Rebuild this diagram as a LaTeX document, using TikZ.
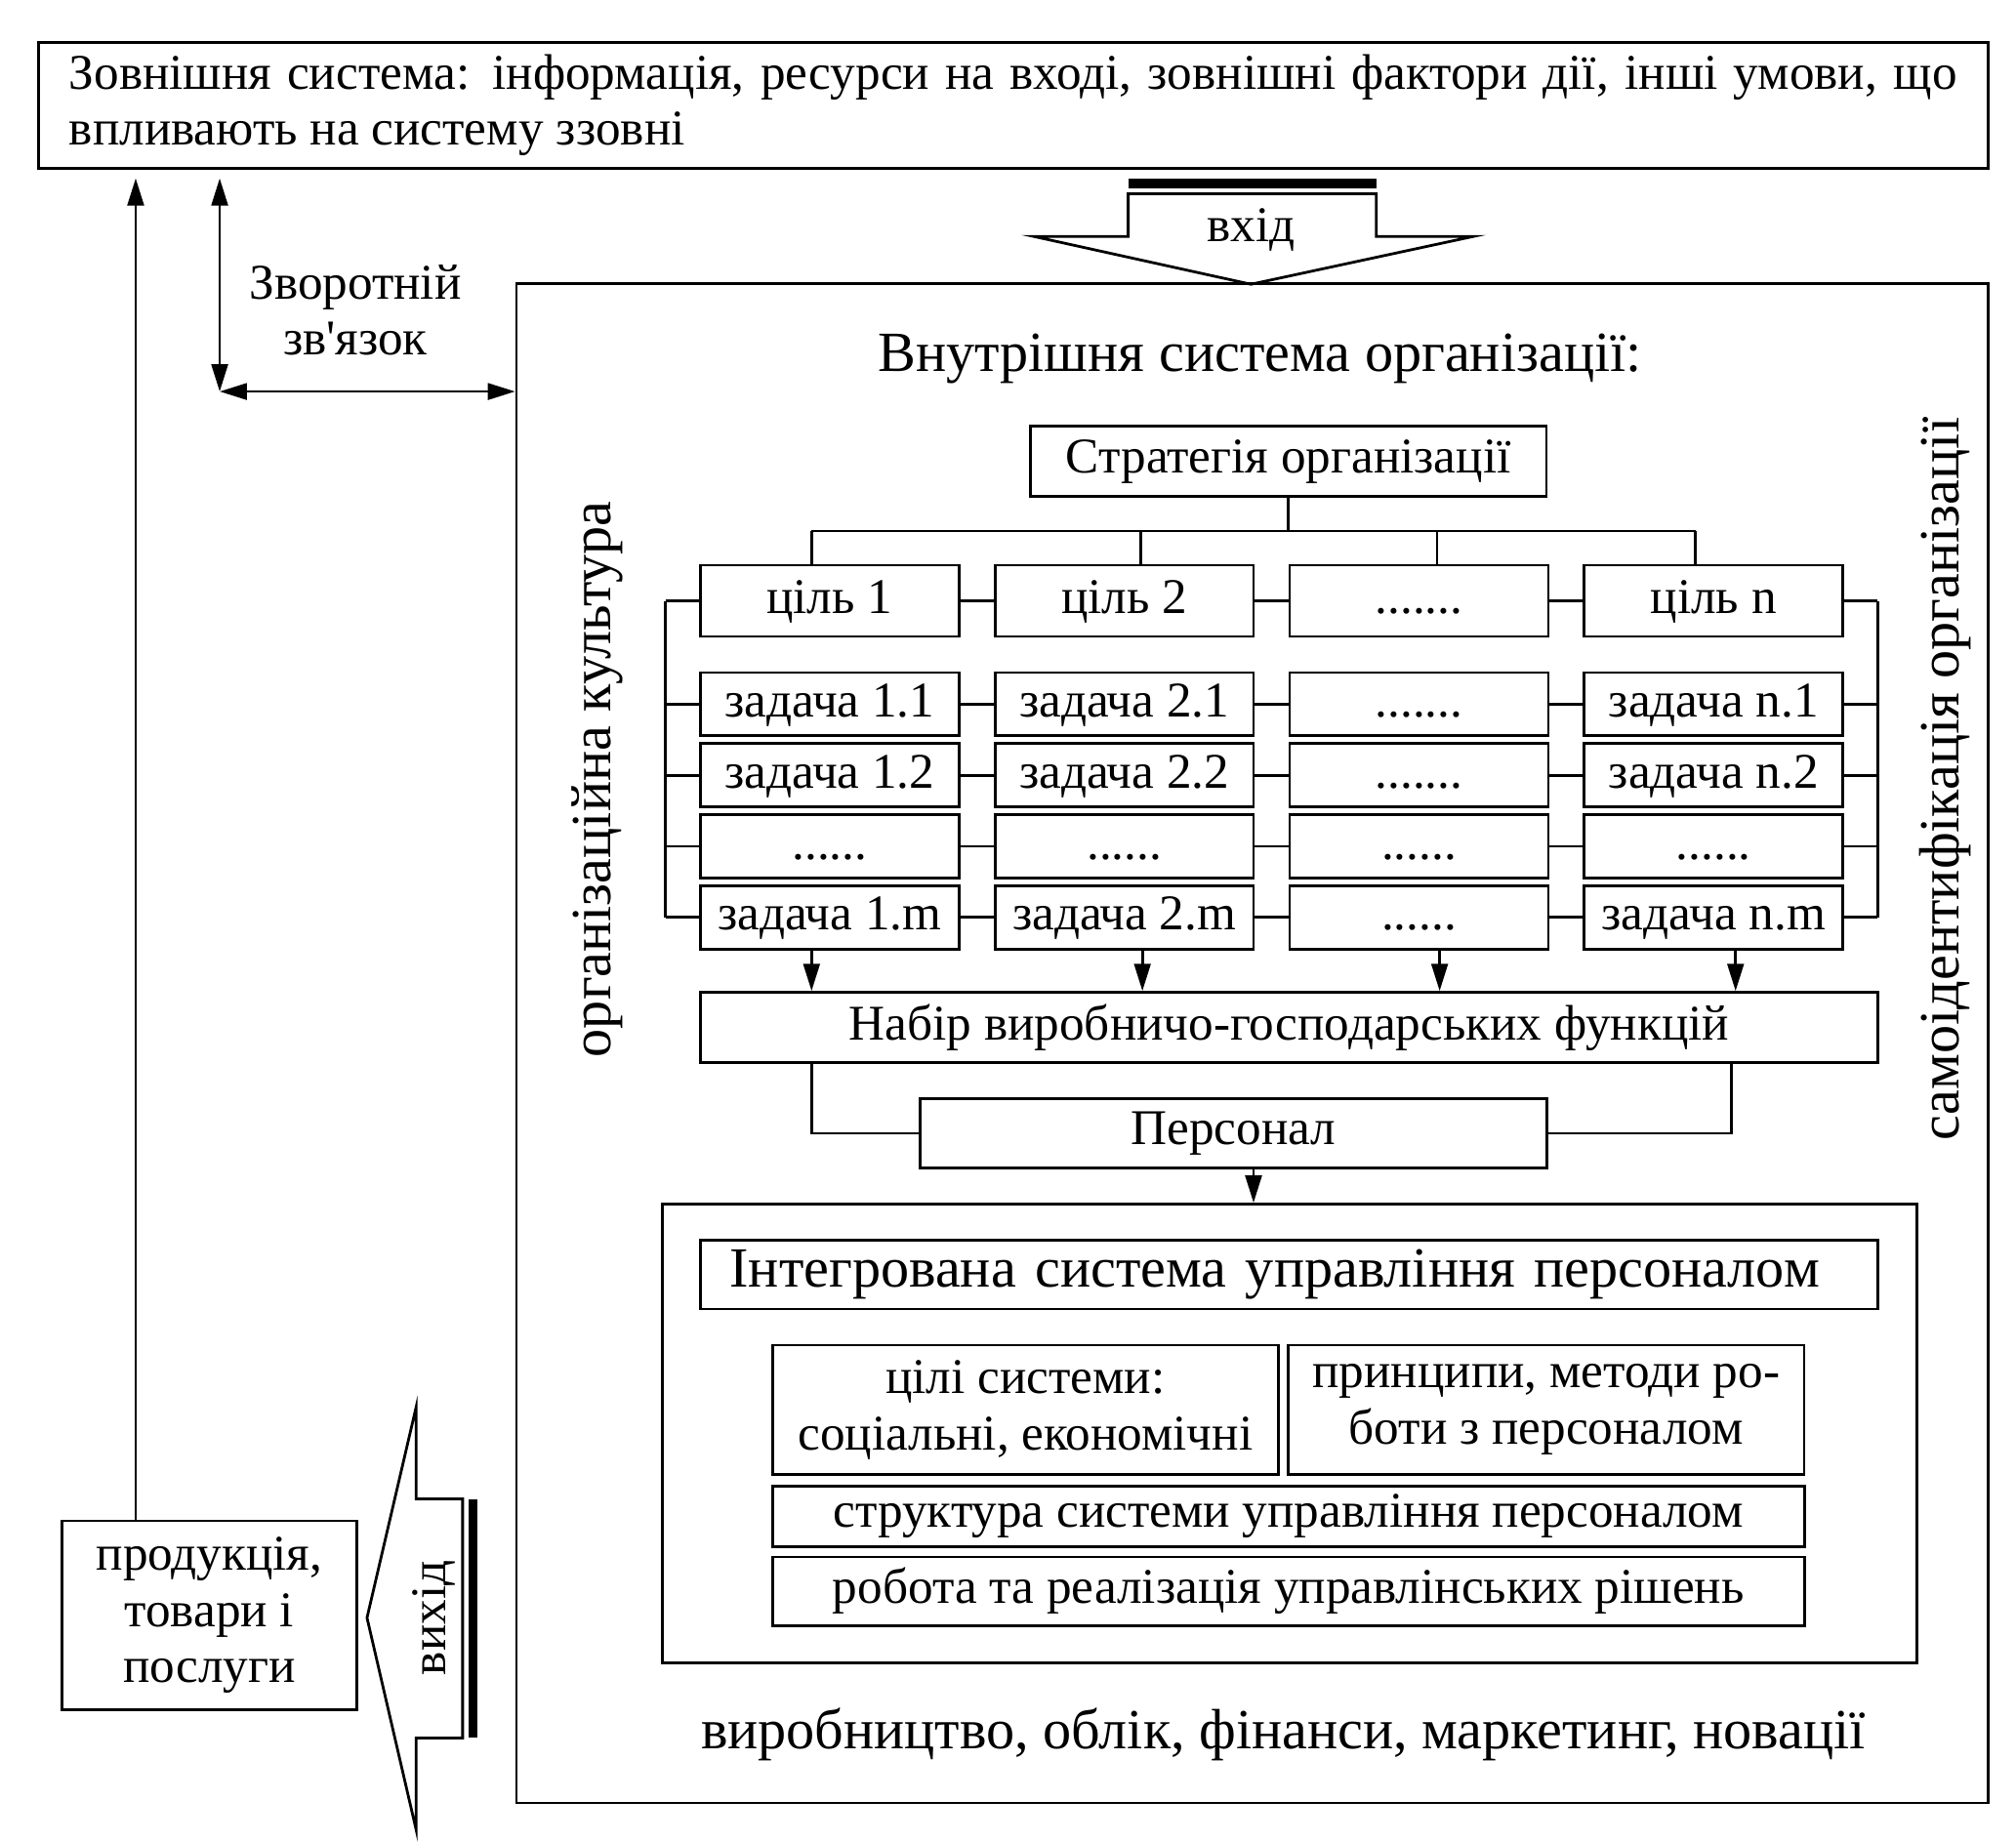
\documentclass[tikz,border=0pt]{standalone}
\usepackage{fontspec}
\setmainfont{Liberation Serif}
\newfontfamily\plainfont{Liberation Serif}
\usetikzlibrary{arrows.meta}

\begin{document}
\begin{tikzpicture}[x=0.01cm,y=-0.01cm,line width=0.6pt,font=\fontsize{11}{12.4}\selectfont]
    \tikzstyle{box}=[draw,inner sep=0pt,align=center]
    \tikzstyle{cell}=[box,minimum width=2cm,minimum height=0.49cm,text height=8pt,text depth=2.4pt]
    \tikzstyle{big}=[font=\fontsize{12.5}{14}\selectfont]
    \tikzstyle{arr}=[-{Triangle[length=6pt,width=3.6pt]}]
    \tikzstyle{arrs}=[{Triangle[length=6pt,width=3.6pt]}-{Triangle[length=6pt,width=3.6pt]}]
    \useasboundingbox (0,0) rectangle (1560,1425);

    % outer world and the organisation
    \node[box,minimum width=15.08cm,minimum height=0.97cm,text width=14.6cm,align=justify] (ext) at (784,81.5)
        {Зовнішня система: інформація, ресурси на вході, зовнішні фактори дії, інші умови, що впливають на систему ззовні};
    \node[box,minimum width=11.38cm,minimum height=11.75cm] (inner) at (969,807.5) {};
    \node[big] (title) at (975,278) {Внутрішня система організації:};
    \node[big,rotate=90] (cult) at (462,603) {організаційна культура};
    \node[big,rotate=90] (selfid) at (1505,603) {самоідентифікація організації};
    \node[big] (areas) at (993,1342) {виробництво, облік, фінанси, маркетинг, новації};

    % input arrow
    \draw (800,183) -- (873,183) -- (873,150) -- (1065,150) -- (1065,183) -- (1140,183) -- (968,220) -- cycle;
    \draw[line width=2pt] (873,142) -- (1065,142);
    \node (in) at (968,178) {вхід};

    % output arrow
    \draw (284,1252) -- (322,1089) -- (322,1160) -- (358,1160) -- (358,1345) -- (322,1345) -- (322,1416) -- cycle;
    \draw[line width=2pt] (366,1160) -- (366,1345);
    \node[rotate=90] (out) at (336,1252) {вихід};
    \node[box,minimum width=2.28cm,minimum height=1.46cm] (prod) at (162,1250) {продукція,\\товари і\\послуги};

    % feedback
    \coordinate (fb-a) at (105,138);
    \coordinate (fb-top) at (170,138);
    \coordinate (fb-corner) at (170,303);
    \draw[arr] (prod.north -| fb-a) -- (fb-a);
    \draw[arrs] (fb-top) -- (fb-corner);
    \draw[arrs] (fb-corner) -- (inner.west |- fb-corner);
    \node[align=center] (fb) at (275,240) {Зворотній\\зв{\plainfont '}язок};

    % strategy, goals, tasks
    \node[box,minimum width=3.99cm,minimum height=0.54cm] (strat) at (997,357) {Стратегія організації};
    \foreach \c/\x/\n in {1/642/1, 2/870/2, 4/1326/n} {
        \node[cell,minimum height=0.55cm] (T-\c-0) at (\x,465) {ціль \n};
        \node[cell] (T-\c-1) at (\x,545) {задача \n.1};
        \node[cell] (T-\c-2) at (\x,600) {задача \n.2};
        \node[cell] (T-\c-3) at (\x,655) {......};
        \node[cell] (T-\c-4) at (\x,710) {задача \n.m};
    }
    \node[cell,minimum height=0.55cm] (T-3-0) at (1098,465) {.......};
    \node[cell] (T-3-1) at (1098,545) {.......};
    \node[cell] (T-3-2) at (1098,600) {.......};
    \node[cell] (T-3-3) at (1098,655) {......};
    \node[cell] (T-3-4) at (1098,710) {......};

    \coordinate (bus) at (997,411);
    \draw (strat) -- (bus);
    \draw (628,411) -- (1312,411);
    \foreach \c/\x in {1/628, 2/883, 3/1112, 4/1312} {
        \coordinate (D-\c) at (\x,411);
        \draw (D-\c) -- (D-\c |- T-\c-0.north);
    }

    \coordinate (bus-l) at (515,0);
    \coordinate (bus-r) at (1453,0);
    \draw (T-1-0.west -| bus-l) -- (T-1-4.west -| bus-l);
    \draw (T-4-0.east -| bus-r) -- (T-4-4.east -| bus-r);
    \foreach \r in {0,...,4} {
        \draw (T-1-\r.west -| bus-l) -- (T-1-\r.west);
        \draw (T-4-\r.east) -- (T-4-\r.east -| bus-r);
        \foreach \a/\b in {1/2, 2/3, 3/4}
            \draw (T-\a-\r.east) -- (T-\b-\r.west);
    }

    % functions and staff
    \node[box,minimum width=9.11cm,minimum height=0.54cm] (func) at (997.5,795) {Набір виробничо-господарських функцій};
    \foreach \c/\x in {1/628, 2/884, 3/1114, 4/1343} {
        \coordinate (A-\c) at (\x,0);
        \draw[arr] (A-\c |- T-\c-4.south) -- (A-\c |- func.north);
    }
    \node[box,minimum width=4.85cm,minimum height=0.54cm] (pers) at (954.5,877) {Персонал};
    \coordinate (L-1) at (628,0);
    \coordinate (R-1) at (1340,0);
    \draw (L-1 |- func.south) |- (pers.west);
    \draw (R-1 |- func.south) |- (pers.east);

    % integrated system
    \node[box,minimum width=9.70cm,minimum height=3.55cm] (isup) at (998,1109.5) {};
    \coordinate (P-1) at (970,0);
    \draw[arr] (P-1 |- pers.south) -- (P-1 |- isup.north);
    \node[box,big,minimum height=0.53cm,inner xsep=0.23cm,text width=8.65cm,align=left] (isname) at (997.5,986.5) {Інтегрована система управління персоналом};
    \node[box,minimum width=3.91cm,minimum height=1.00cm] (aims) at (793.5,1091) {цілі системи:\\соціальні, економічні};
    \node[box,minimum width=3.99cm,minimum height=1.00cm] (princ) at (1196.5,1091) {принципи, методи ро-\\боти з персоналом};
    \node[box,minimum width=7.98cm,minimum height=0.47cm] (struct) at (997,1173.5) {структура системи управління персоналом};
    \node[box,minimum width=7.98cm,minimum height=0.53cm] (work) at (997,1231.5) {робота та реалізація управлінських рішень};
\end{tikzpicture}
\end{document}
